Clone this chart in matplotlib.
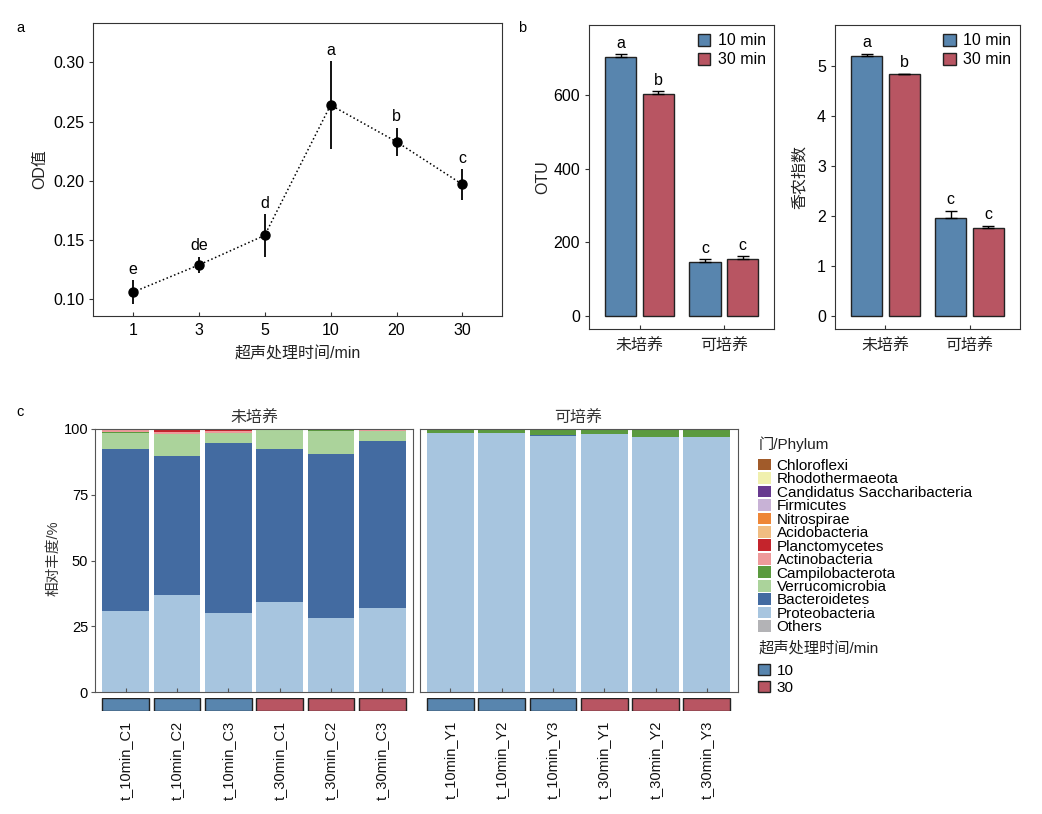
import matplotlib
matplotlib.use('Agg')
import matplotlib.pyplot as plt
from matplotlib.patches import Patch
import numpy as np

plt.rcParams['font.family'] = ['Liberation Sans', 'Noto Sans CJK SC']

# ---- data, panel a
od_time = ['1', '3', '5', '10', '20', '30']
od_mean = [0.106, 0.129, 0.154, 0.264, 0.233, 0.197]
od_err = [0.010, 0.007, 0.018, 0.037, 0.012, 0.013]
od_letter = ['e', 'de', 'd', 'a', 'b', 'c']

# ---- data, panel b
groups_b = ['未培养', '可培养']
otu_10 = [704, 147]
otu_10_err = [8, 6]
otu_30 = [602, 155]
otu_30_err = [9, 8]
otu_letter_10 = ['a', 'c']
otu_letter_30 = ['b', 'c']
shan_10 = [5.20, 1.95]
shan_10_err = [0.04, 0.15]
shan_30 = [4.83, 1.75]
shan_30_err = [0.01, 0.05]
shan_letter_10 = ['a', 'c']
shan_letter_30 = ['b', 'c']

# ---- data, panel c
facets = ['未培养', '可培养']
samples_c = ['t_10min_C1', 't_10min_C2', 't_10min_C3', 't_30min_C1', 't_30min_C2', 't_30min_C3']
samples_y = ['t_10min_Y1', 't_10min_Y2', 't_10min_Y3', 't_30min_Y1', 't_30min_Y2', 't_30min_Y3']
sample_time = ['10', '10', '10', '30', '30', '30']
phyla = ['Chloroflexi', 'Rhodothermaeota', 'Candidatus Saccharibacteria', 'Firmicutes',
         'Nitrospirae', 'Acidobacteria', 'Planctomycetes', 'Actinobacteria',
         'Campilobacterota', 'Verrucomicrobia', 'Bacteroidetes', 'Proteobacteria', 'Others']
# abundance (%) per phylum, first 6 = C samples, last 6 = Y samples
Proteobacteria = [30.8, 36.9, 30.1, 34.4, 28.2, 31.9, 98.3, 98.2, 97.3, 97.8, 96.7, 96.8]
Bacteroidetes = [61.6, 52.9, 64.5, 57.9, 62.1, 63.3, 0.2, 0.2, 0.2, 0.2, 0.2, 0.2]
Verrucomicrobia = [6.1, 8.1, 3.8, 7.1, 8.8, 3.8, 0, 0, 0, 0, 0, 0]
Campilobacterota = [0.4, 0.2, 0.1, 0.1, 0.3, 0.2, 1.4, 1.5, 2.5, 1.9, 3.0, 2.9]
Actinobacteria = [0.6, 0.5, 0.8, 0.2, 0.1, 0.3, 0, 0, 0, 0, 0, 0]
Planctomycetes = [0.3, 1.0, 0.5, 0.2, 0.1, 0.2, 0, 0, 0, 0, 0, 0]
Acidobacteria = [0.1, 0.2, 0.1, 0.1, 0.1, 0.1, 0, 0, 0, 0, 0, 0]
Nitrospirae = [0, 0, 0, 0, 0, 0, 0, 0, 0, 0, 0, 0]
Firmicutes = [0, 0, 0, 0, 0, 0, 0, 0, 0, 0, 0, 0]
Candidatus = [0, 0, 0, 0, 0, 0, 0, 0, 0, 0, 0, 0]
Rhodothermaeota = [0, 0, 0, 0, 0, 0, 0, 0, 0, 0, 0, 0]
Chloroflexi = [0, 0, 0, 0, 0, 0, 0, 0, 0, 0, 0, 0]
Others = [0.1, 0.2, 0.1, 0.0, 0.3, 0.2, 0.1, 0.1, 0.0, 0.1, 0.1, 0.1]

abund = {'Proteobacteria': Proteobacteria, 'Bacteroidetes': Bacteroidetes,
         'Verrucomicrobia': Verrucomicrobia, 'Campilobacterota': Campilobacterota,
         'Actinobacteria': Actinobacteria, 'Planctomycetes': Planctomycetes,
         'Acidobacteria': Acidobacteria, 'Nitrospirae': Nitrospirae,
         'Firmicutes': Firmicutes, 'Candidatus Saccharibacteria': Candidatus,
         'Rhodothermaeota': Rhodothermaeota, 'Chloroflexi': Chloroflexi, 'Others': Others}
stack_order = ['Proteobacteria', 'Bacteroidetes', 'Verrucomicrobia', 'Campilobacterota',
               'Actinobacteria', 'Planctomycetes', 'Acidobacteria', 'Nitrospirae',
               'Firmicutes', 'Candidatus Saccharibacteria', 'Rhodothermaeota',
               'Chloroflexi', 'Others']

phy_col = {'Chloroflexi': '#a15b2a', 'Rhodothermaeota': '#f0f0ae',
           'Candidatus Saccharibacteria': '#67398f', 'Firmicutes': '#c8b2d6',
           'Nitrospirae': '#ee8637', 'Acidobacteria': '#f1bd82',
           'Planctomycetes': '#c4242c', 'Actinobacteria': '#ee9a9b',
           'Campilobacterota': '#5b9a3f', 'Verrucomicrobia': '#abd39b',
           'Bacteroidetes': '#436ba1', 'Proteobacteria': '#a7c5df', 'Others': '#b3b3b6'}
col10 = '#5885ae'
col30 = '#b85562'
time_col = {'10': col10, '30': col30}

W, H = 1042, 814
fig = plt.figure(figsize=(W/100, H/100), dpi=100)


def box(x0, y0, x1, y1):
    return [x0/W, 1-y1/H, (x1-x0)/W, (y1-y0)/H]


edge = '#333333'
ftsize = 11.5

# ================= panel a
ax0 = fig.add_axes(box(93.3, 23.3, 502, 315.7))
xa = np.arange(1, len(od_time)+1)
ax0.plot(xa, od_mean, ':', color='k', lw=1.1)
ax0.errorbar(xa, od_mean, yerr=od_err, fmt='o', color='k', ms=6.5, elinewidth=1.3, capsize=0)
for x, m, e, t in zip(xa, od_mean, od_err, od_letter):
    ax0.annotate(t, (x, m+e), xytext=(0, 4.5), textcoords='offset points',
                 ha='center', va='baseline', fontsize=ftsize)
ax0.set_xlim(0.4, 6.6)
ax0.set_ylim(0.0862, 0.333)
ax0.set_xticks(xa)
ax0.set_xticklabels(od_time)
ax0.set_yticks([0.10, 0.15, 0.20, 0.25, 0.30])
ax0.set_yticklabels(['0.10', '0.15', '0.20', '0.25', '0.30'])
ax0.tick_params(axis='y', direction='out', length=3, labelsize=ftsize, colors=edge, labelcolor='k')
ax0.tick_params(axis='x', direction='in', length=3, labelsize=ftsize, colors=edge, labelcolor='k', pad=5)
ax0.set_ylabel('OD值', fontsize=ftsize, color='#222222')
ax0.yaxis.set_label_coords(-0.113, 0.5)
ax0.set_xlabel('超声处理时间/min', fontsize=ftsize, color='#222222', labelpad=6)
for s in ax0.spines.values():
    s.set_color(edge)

# ================= panel b


def bar_panel(rect, v10, e10, v30, e30, l10, l30, ylim, yticks, ylabel, lx):
    ax = fig.add_axes(rect)
    xb = np.arange(1, len(groups_b)+1)
    off = 0.223
    wd = 0.372
    z = [0]*len(xb)
    ax.errorbar(xb-off, v10, yerr=[z, e10], fmt='none', ecolor='k', elinewidth=1, capsize=4.5, capthick=1)
    ax.errorbar(xb+off, v30, yerr=[z, e30], fmt='none', ecolor='k', elinewidth=1, capsize=4.5, capthick=1)
    ax.bar(xb-off, v10, wd, color=col10, edgecolor='#222222', lw=1, label='10 min')
    ax.bar(xb+off, v30, wd, color=col30, edgecolor='#222222', lw=1, label='30 min')
    for x, v, e, t in zip(xb-off, v10, e10, l10):
        ax.annotate(t, (x, v+e), xytext=(0, 4.5), textcoords='offset points',
                    ha='center', va='baseline', fontsize=ftsize)
    for x, v, e, t in zip(xb+off, v30, e30, l30):
        ax.annotate(t, (x, v+e), xytext=(0, 4.5), textcoords='offset points',
                    ha='center', va='baseline', fontsize=ftsize)
    ax.set_xlim(0.4, 2.6)
    ax.set_ylim(*ylim)
    ax.set_xticks(xb)
    ax.set_xticklabels(groups_b)
    ax.set_yticks(yticks)
    ax.tick_params(axis='y', direction='out', length=3, labelsize=ftsize, colors=edge, labelcolor='k')
    ax.tick_params(axis='x', direction='in', length=3, labelsize=ftsize, colors=edge, labelcolor='#222222', pad=7)
    ax.set_ylabel(ylabel, fontsize=ftsize, color='#222222')
    ax.yaxis.set_label_coords(lx, 0.5)
    for s in ax.spines.values():
        s.set_color(edge)
    ax.legend(loc='upper right', frameon=False, fontsize=ftsize, handlelength=0.8, handleheight=0.8,
              handletextpad=0.45, labelspacing=0.25, borderaxespad=0.35, borderpad=0.2)
    return ax


ax1 = bar_panel(box(589, 24.7, 774.3, 329), otu_10, otu_10_err, otu_30, otu_30_err,
                otu_letter_10, otu_letter_30, (-36, 791), [0, 200, 400, 600], 'OTU', -0.21)
ax2 = bar_panel(box(835, 24.7, 1020, 329), shan_10, shan_10_err, shan_30, shan_30_err,
                shan_letter_10, shan_letter_30, (-0.266, 5.82), [0, 1, 2, 3, 4, 5], '香农指数', -0.151)

# ================= panel c
fs_c = 10.5
edge_c = '#555555'
facet_x = [(95, 413), (419.6, 737.6)]
facet_samples = [samples_c, samples_y]
for k in range(2):
    x0, x1 = facet_x[k]
    ax = fig.add_axes(box(x0, 428.7, x1, 692.3))
    xc = np.arange(6)
    bottom = np.zeros(6)
    for p in stack_order:
        vals = np.array(abund[p][6*k:6*k+6])
        ax.bar(xc, vals, 0.91, bottom=bottom, color=phy_col[p], lw=0)
        bottom = bottom + vals
    ax.set_xlim(-0.6, 5.6)
    ax.set_ylim(0, 100)
    ax.set_xticks(xc)
    ax.set_xticklabels([])
    ax.tick_params(axis='x', direction='in', length=3, colors=edge_c)
    ax.set_title(facets[k], fontsize=11.5, color='#333333', pad=4)
    for s in ax.spines.values():
        s.set_color(edge_c)
    if k == 0:
        ax.set_yticks([0, 25, 50, 75, 100])
        ax.tick_params(axis='y', direction='out', length=3, labelsize=fs_c, colors=edge_c,
                       labelcolor='k', pad=2)
        ax.set_ylabel('相对丰度/%', fontsize=fs_c, color='#333333')
        ax.yaxis.set_label_coords(-0.11, 0.51)
    else:
        ax.set_yticks([])
    # sample colour strip
    axs = fig.add_axes(box(x0, 697.7, x1, 710.7))
    axs.bar(xc, [1]*6, 0.91, color=[time_col[t] for t in sample_time],
            edgecolor='#222222', lw=1)
    axs.set_xlim(-0.6, 5.6)
    axs.set_ylim(0, 1)
    axs.set_xticks(xc)
    axs.set_xticklabels(facet_samples[k], rotation=90, fontsize=fs_c, color='#111111')
    axs.tick_params(axis='x', length=0, pad=7)
    axs.set_yticks([])
    for s in axs.spines.values():
        s.set_visible(False)

# legends for panel c (titles drawn as separate text)
fs_leg = 11
fig.text(759/W, 1-444/H, '门/Phylum', fontsize=fs_leg, ha='left', va='center', color='#222222')
h_phy = [Patch(facecolor=phy_col[p], edgecolor='none') for p in phyla]
leg1 = fig.legend(h_phy, phyla, loc='upper left', bbox_to_anchor=(750/W, 1-451/H),
                  frameon=False, fontsize=fs_leg, handlelength=0.85, handleheight=0.8,
                  handletextpad=0.4, labelspacing=-0.045, borderpad=0.0)
fig.text(759/W, 1-648/H, '超声处理时间/min', fontsize=fs_leg, ha='left', va='center', color='#222222')
h_t = [Patch(facecolor=col10, edgecolor='#222222', lw=1),
       Patch(facecolor=col30, edgecolor='#222222', lw=1)]
leg2 = fig.legend(h_t, ['10', '30'], loc='upper left', bbox_to_anchor=(750/W, 1-656/H),
                  frameon=False, fontsize=fs_leg, handlelength=0.8, handleheight=0.75,
                  handletextpad=0.45, labelspacing=0.2, borderpad=0.0)

# panel letters
fig.text(20/W, 1-28/H, 'a', fontsize=10.5, ha='center', va='center')
fig.text(522/W, 1-28/H, 'b', fontsize=10.5, ha='center', va='center')
fig.text(20/W, 1-412/H, 'c', fontsize=10.5, ha='center', va='center')

fig.savefig('out.png', dpi=100)
